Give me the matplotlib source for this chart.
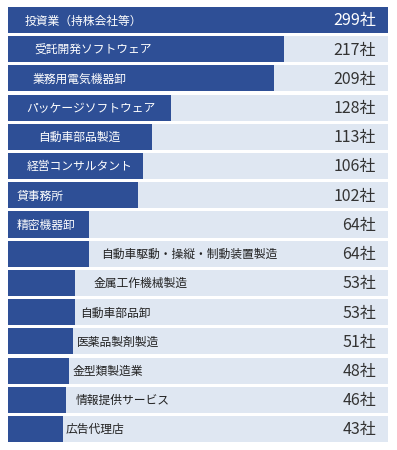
import matplotlib
matplotlib.use("Agg")
import matplotlib.pyplot as plt

plt.rcParams['font.family'] = ['Noto Sans CJK JP', 'DejaVu Sans']

# data
industries = ["投資業（持株会社等）", "受託開発ソフトウェア", "業務用電気機器卸",
              "パッケージソフトウェア", "自動車部品製造", "経営コンサルタント",
              "貸事務所", "精密機器卸", "自動車駆動・操縦・制動装置製造",
              "金属工作機械製造", "自動車部品卸", "医薬品製剤製造",
              "金型類製造業", "情報提供サービス", "広告代理店"]
counts = [299, 217, 209, 128, 113, 106, 102, 64, 64, 53, 53, 51, 48, 46, 43]

# where each label starts (pixels from the left edge of the band)
label_px = [17, 26, 25, 18, 30, 19, 9, 9, 93, 86, 72, 69, 65, 68, 58]

W, H = 397, 450
bar_col = "#2e4f96"
band_col = "#dfe7f2"

fig = plt.figure(figsize=(W / 100, H / 100), dpi=100)
ax = fig.add_axes([8 / W, 1 - 442 / H, 380 / W, 435 / H])

n = len(counts)
ypos = list(range(n))
h = 0.89
vmax = max(counts)

ax.barh(ypos, [vmax] * n, height=h, color=band_col, zorder=1)
ax.barh(ypos, counts, height=h, color=bar_col, zorder=2)

ax.set_xlim(0, vmax)
ax.set_ylim(n - 1 + h / 2, -h / 2)
ax.axis("off")

px = vmax / 380.0
for i, (name, c) in enumerate(zip(industries, counts)):
    lx = label_px[i] * px
    col = "white" if lx < c else "#222222"
    ax.text(lx, i + 0.03, name, color=col, fontsize=8.5,
            va="center", ha="left", zorder=3)
    vcol = "white" if c >= vmax else "#333333"
    ax.text(368 * px, i + 0.03, f"{c}社", color=vcol, fontsize=11.5,
            va="center", ha="right", zorder=3)

fig.savefig("out.png", dpi=100, facecolor="white")
